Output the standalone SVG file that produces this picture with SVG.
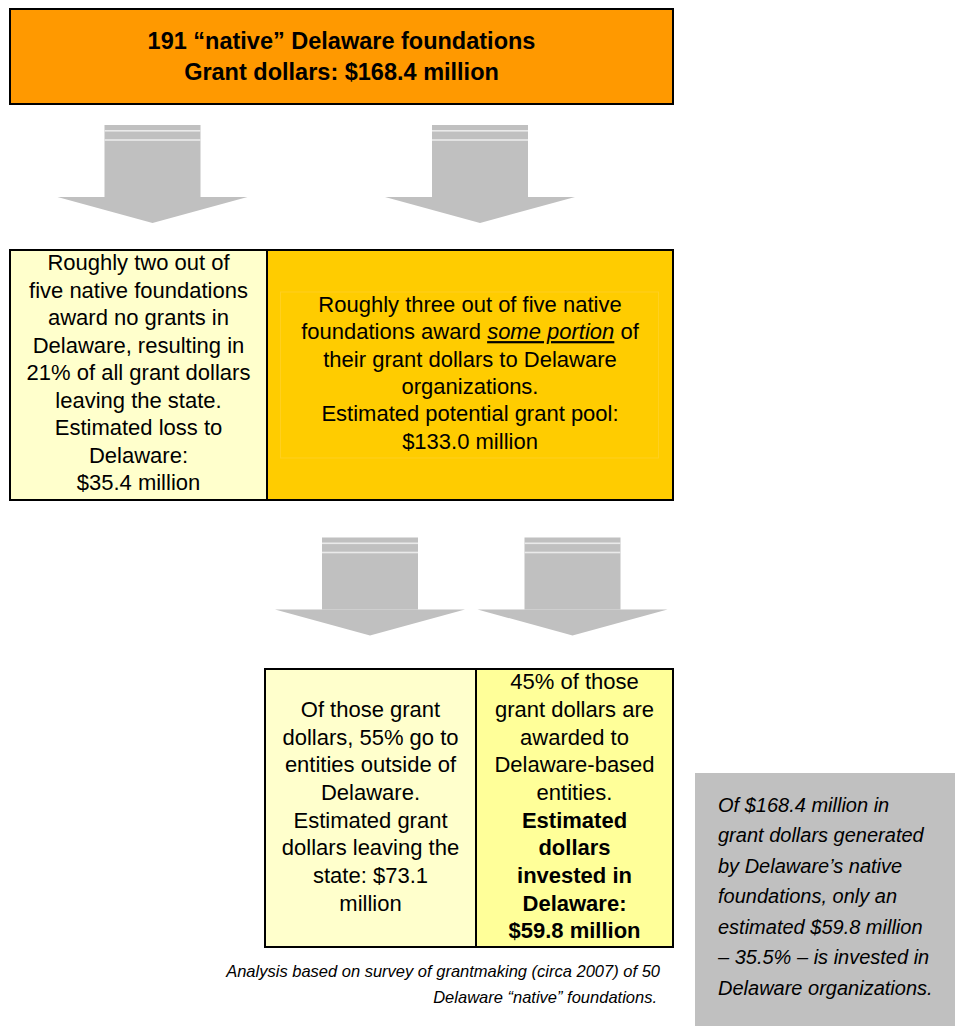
<svg xmlns="http://www.w3.org/2000/svg" xmlns:xlink="http://www.w3.org/1999/xlink" width="955" height="1026" viewBox="0 0 955 1026">
  <style>
    .box { stroke: #000; stroke-width: 2; }
    .t { font-family: "Liberation Sans", Arial, sans-serif; font-size: 22px; fill: #000; text-anchor: middle; }
    .tb { font-weight: bold; }
    .title { font-family: "Liberation Sans", Arial, sans-serif; font-size: 23.5px; font-weight: bold; fill: #000; text-anchor: middle; }
    .note { font-family: "Liberation Sans", Arial, sans-serif; font-size: 20px; font-style: italic; fill: #000; }
    .foot { font-family: "Liberation Sans", Arial, sans-serif; font-size: 16.5px; font-style: italic; fill: #000; text-anchor: end; }
  </style>
  <defs>
    <g id="arrow">
      <rect x="-48" y="0" width="96" height="72" fill="#C0C0C0"/>
      <polygon points="-95,72 95,72 0,98" fill="#C0C0C0"/>
      <rect x="-48" y="5" width="96" height="1.6" fill="#EAEAEA"/>
      <rect x="-48" y="14.2" width="96" height="1.6" fill="#EAEAEA"/>
    </g>
  </defs>
  <rect width="955" height="1026" fill="#FFFFFF"/>

  <g id="connectors">
    <use xlink:href="#arrow" href="#arrow" transform="translate(152.5,125)"/>
    <use xlink:href="#arrow" href="#arrow" transform="translate(480,125)"/>
    <use xlink:href="#arrow" href="#arrow" transform="translate(370,537.5)"/>
    <use xlink:href="#arrow" href="#arrow" transform="translate(572.5,537.5)"/>
  </g>

  <g id="node-top">
    <rect class="box" x="10" y="9" width="663" height="95" fill="#FF9900"/>
    <text class="title" x="341.5" y="49">191 “native” Delaware foundations</text>
    <text class="title" x="341.5" y="80">Grant dollars: $168.4 million</text>
  </g>

  <g id="node-no-grants">
    <rect class="box" x="10" y="250" width="257" height="250" fill="#FFFFCC"/>
    <text class="t" x="138.5" y="270">Roughly two out of</text>
    <text class="t" x="138.5" y="297.5">five native foundations</text>
    <text class="t" x="138.5" y="325">award no grants in</text>
    <text class="t" x="138.5" y="352.5">Delaware, resulting in</text>
    <text class="t" x="138.5" y="380">21% of all grant dollars</text>
    <text class="t" x="138.5" y="407.5">leaving the state.</text>
    <text class="t" x="138.5" y="435">Estimated loss to</text>
    <text class="t" x="138.5" y="462.5">Delaware:</text>
    <text class="t" x="138.5" y="490">$35.4 million</text>
  </g>

  <g id="node-some-portion">
    <rect class="box" x="267" y="250" width="406" height="250" fill="#FFCC00"/>
    <rect x="280.5" y="292" width="378" height="166" fill="none" stroke="#FFD235" stroke-width="1" opacity="0.6"/>
    <text class="t" x="470" y="311.7">Roughly three out of five native</text>
    <text class="t" x="470" y="339.1">foundations award <tspan font-style="italic" text-decoration="underline">some portion</tspan> of</text>
    <text class="t" x="470" y="366.5">their grant dollars to Delaware</text>
    <text class="t" x="470" y="393.9">organizations.</text>
    <text class="t" x="470" y="421.3">Estimated potential grant pool:</text>
    <text class="t" x="470" y="448.7">$133.0 million</text>
  </g>

  <g id="node-outside">
    <rect class="box" x="265" y="669" width="211" height="278" fill="#FFFFCC"/>
    <text class="t" x="370.5" y="717">Of those grant</text>
    <text class="t" x="370.5" y="744.6">dollars, 55% go to</text>
    <text class="t" x="370.5" y="772.3">entities outside of</text>
    <text class="t" x="370.5" y="800">Delaware.</text>
    <text class="t" x="370.5" y="827.6">Estimated grant</text>
    <text class="t" x="370.5" y="855.3">dollars leaving the</text>
    <text class="t" x="370.5" y="883">state: $73.1</text>
    <text class="t" x="370.5" y="910.7">million</text>
  </g>

  <g id="node-invested">
    <rect class="box" x="476" y="669" width="197" height="278" fill="#FFFF99"/>
    <text class="t" x="574.5" y="689.3">45% of those</text>
    <text class="t" x="574.5" y="717">grant dollars are</text>
    <text class="t" x="574.5" y="744.6">awarded to</text>
    <text class="t" x="574.5" y="772.3">Delaware-based</text>
    <text class="t" x="574.5" y="800">entities.</text>
    <text class="t tb" x="574.5" y="827.6">Estimated</text>
    <text class="t tb" x="574.5" y="855.3">dollars</text>
    <text class="t tb" x="574.5" y="883">invested in</text>
    <text class="t tb" x="574.5" y="910.7">Delaware:</text>
    <text class="t tb" x="574.5" y="938.3">$59.8 million</text>
  </g>

  <g id="footnote">
    <text class="foot" x="660" y="976.5">Analysis based on survey of grantmaking (circa 2007) of 50</text>
    <text class="foot" x="657" y="1003">Delaware “native” foundations.</text>
  </g>

  <g id="node-summary">
    <rect x="695" y="773" width="260" height="253" fill="#C0C0C0"/>
    <text class="note" x="718" y="811.5">Of $168.4 million in</text>
    <text class="note" x="718" y="842">grant dollars generated</text>
    <text class="note" x="718" y="872.5">by Delaware’s native</text>
    <text class="note" x="718" y="903">foundations, only an</text>
    <text class="note" x="718" y="933.5">estimated $59.8 million</text>
    <text class="note" x="718" y="964">– 35.5% – is invested in</text>
    <text class="note" x="718" y="994.5">Delaware organizations.</text>
  </g>
</svg>
